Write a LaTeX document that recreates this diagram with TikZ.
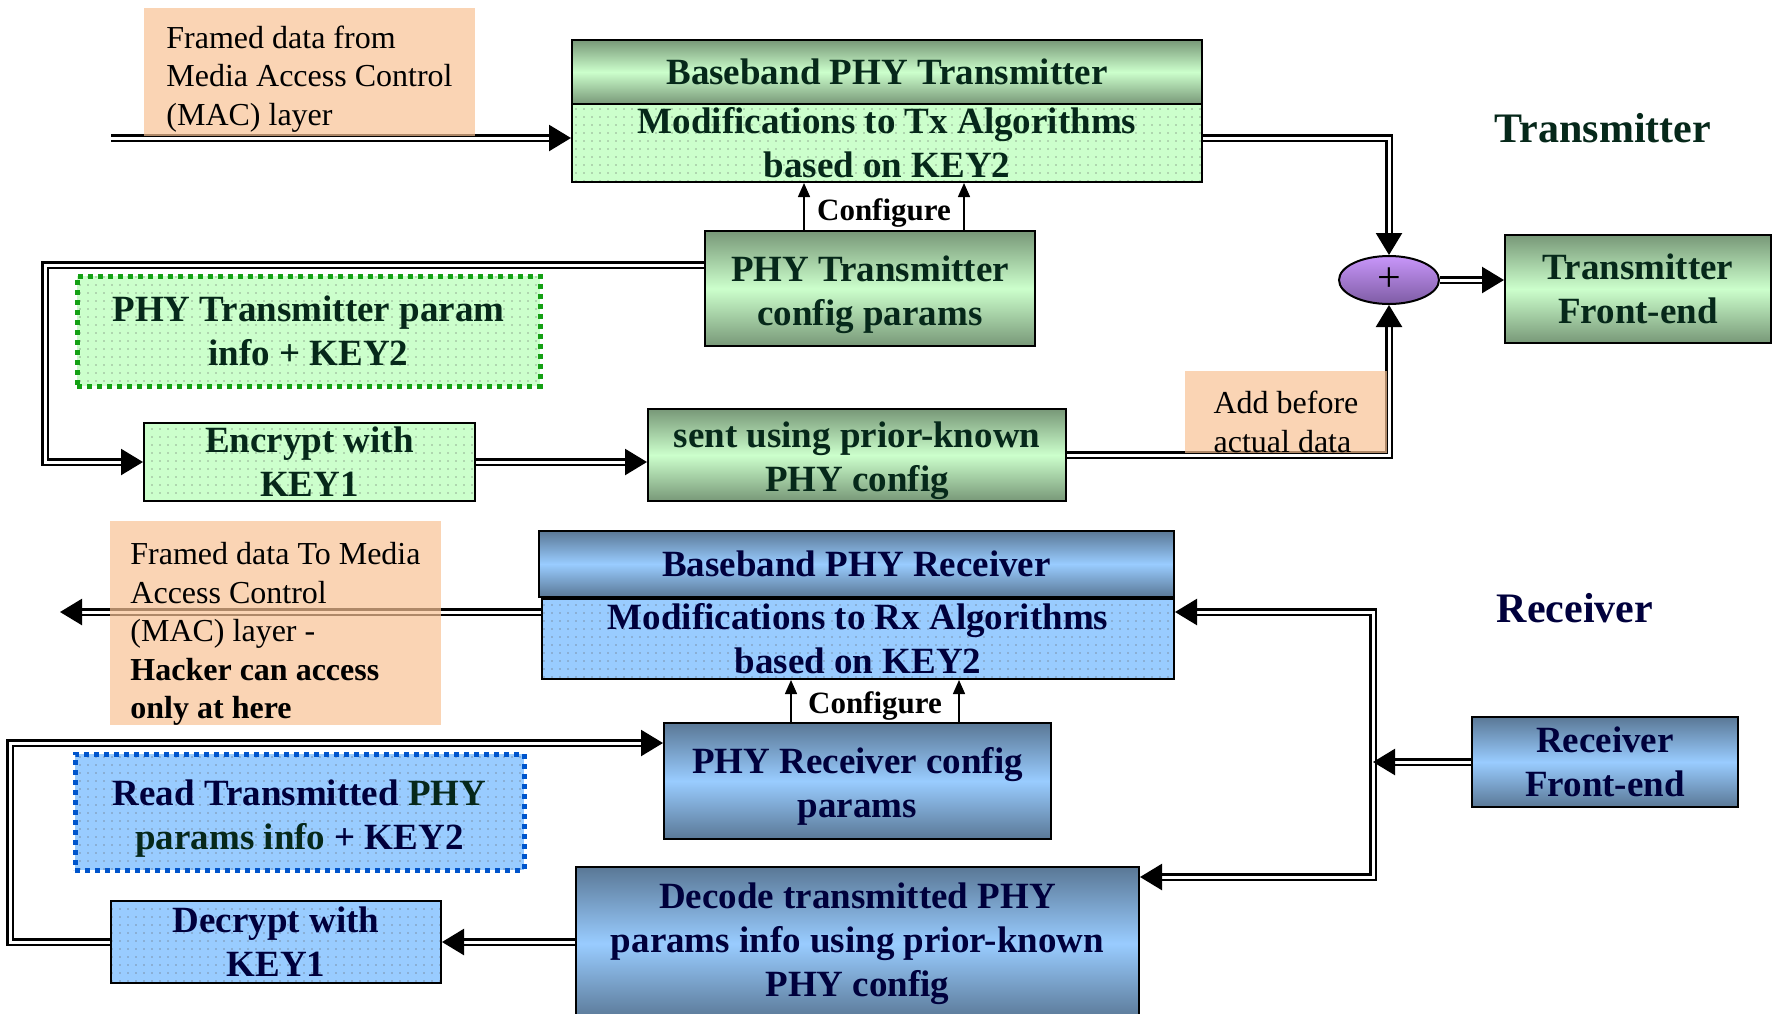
\documentclass[tikz,border=0pt]{standalone}
\usepackage{fontspec}
\setmainfont{Liberation Serif}
\usetikzlibrary{arrows.meta,shapes.geometric,patterns.meta,calc}
\definecolor{gdark}{HTML}{789878}
\definecolor{glight}{HTML}{CCFFCC}
\definecolor{gtext}{HTML}{06281A}
\definecolor{bdark}{HTML}{5A7896}
\definecolor{blight}{HTML}{99CCFF}
\definecolor{btext}{HTML}{00003C}
\definecolor{peach}{HTML}{F9C395}
\definecolor{gdot}{HTML}{14A014}
\definecolor{bdot}{HTML}{0055CC}
\definecolor{purp}{HTML}{C896FA}
\definecolor{purpdark}{HTML}{7E5CA4}
\newcommand\bxfont{\fontsize{37}{44}\selectfont\bfseries}
\newcommand\ntfont{\fontsize{32}{38.5}\selectfont}
\newcommand\cfgfont{\fontsize{31}{36}\selectfont\bfseries}
\newcommand\lblfont{\fontsize{42}{48}\selectfont\bfseries}
\newcommand\lift[1]{\rule{0pt}{#1pt}}
\begin{document}
\begin{tikzpicture}[x=1pt,y=-1pt,
  box/.style={draw=black, line width=2pt, inner sep=0pt, align=center, font=\bxfont},
  gshade/.style={box, top color=gdark, bottom color=gdark, middle color=glight, text=gtext},
  bshade/.style={box, top color=bdark, bottom color=bdark, middle color=blight, text=btext},
  gdots/.style={box, preaction={fill=glight}, pattern={Dots[distance=8pt,radius=0.9pt]}, pattern color=gdark!80, text=gtext},
  bdots/.style={box, preaction={fill=blight}, pattern={Dots[distance=8pt,radius=0.9pt]}, pattern color=bdark!80, text=btext},
  gborder/.style={draw=gdot, line width=5pt, dash pattern=on 5pt off 5pt},
  bborder/.style={draw=bdot, line width=5pt, dash pattern=on 5pt off 5pt},
  note/.style={fill=peach, fill opacity=0.7, text opacity=1, inner sep=0pt, align=left, font=\ntfont, text=black},
  cfgtext/.style={font=\cfgfont, inner sep=0pt, text=black},
  lbl/.style={font=\lblfont, inner sep=0pt},
  dbl/.style={draw=black, double=white, double distance=3pt, line width=2.4pt},
  dblarrow/.style={dbl, -{Triangle[length=22pt,width=26pt]}},
  dblboth/.style={dbl, {Triangle[length=22pt,width=26pt]}-{Triangle[length=22pt,width=26pt]}},
  cfgarrow/.style={draw=black, line width=1.5pt, -{Triangle[length=14pt,width=12pt]}}
]
\useasboundingbox (0,0) rectangle (1775,1013);
\fill[white] (0,0) rectangle (1775,1013);

% transmitter boxes
\node[gshade, minimum width=630pt, minimum height=64pt] (txhead) at (887,72) {Baseband PHY Transmitter};
\node[gdots, minimum width=630pt, minimum height=78pt] (txmod) at (887,143) {Modifications to Tx Algorithms\\based on KEY2};
\node[gshade, minimum width=330pt, minimum height=115pt] (txcfg) at (870,288.5) {\lift{38}PHY Transmitter\\config params};
\node[gdots, gborder, minimum width=463pt, minimum height=110pt] (txparam) at (308.5,331) {PHY Transmitter param\\info + KEY2};
\node[gdots, minimum width=331pt, minimum height=78pt] (encrypt) at (309.5,462) {Encrypt with\\KEY1};
\node[gshade, minimum width=418pt, minimum height=92pt] (sent) at (857,455) {\lift{37}sent using prior-known\\PHY config};
\node[ellipse, draw=black, line width=2pt, top color=purp, middle color=purp, bottom color=purpdark,
      minimum width=100pt, minimum height=48pt, inner sep=0pt, font=\fontsize{42}{44}\selectfont] (sum) at (1389,280) {+};
\node[gshade, minimum width=266pt, minimum height=108pt] (txfe) at (1638,289) {Transmitter\\Front-end};
\node[lbl, text=gtext] (txlabel) at (1603,128) {Transmitter};
\node[cfgtext] (cfgT) at (884,213) {Configure};

% receiver boxes
\node[bshade, minimum width=635pt, minimum height=66pt] (rxhead) at (856.5,564) {Baseband PHY Receiver};
\node[bdots, minimum width=632pt, minimum height=80pt] (rxmod) at (858,639) {Modifications to Rx Algorithms\\based on KEY2};
\node[bshade, minimum width=387pt, minimum height=116pt] (rxcfg) at (857.5,781) {\lift{36}PHY Receiver config\\params};
\node[bdots, bborder, minimum width=449pt, minimum height=116pt] (rxread) at (299.5,812)
  {\lift{38}Read Transmitted {\color{gtext}PHY}\\{\color{gtext}params info} + KEY2};
\node[bdots, minimum width=330pt, minimum height=82pt] (decrypt) at (276,942) {Decrypt with\\KEY1};
\node[bshade, minimum width=563pt, minimum height=153pt] (decode) at (857.5,943.5) {Decode transmitted PHY\\params info using prior-known\\PHY config};
\node[bshade, minimum width=266pt, minimum height=90pt] (rxfe) at (1605,762) {Receiver\\Front-end};
\node[lbl, text=btext] (rxlabel) at (1575,608) {Receiver};
\node[cfgtext] (cfgR) at (875,706) {Configure};

% transmitter connectors
\coordinate (inS) at (111,138);
\draw[dblarrow] (inS) -- (inS -| txmod.west);
\draw[dblarrow] (txmod.east |- inS) -| (sum.north);
\draw[dblarrow] (sum.east) -- (sum.east -| txfe.west);
\draw[dblarrow] (sent.east) -| (sum.south);
\coordinate (tl) at (45,265);
\draw[dblarrow] (txcfg.west |- tl) -- (tl) |- (encrypt.west);
\draw[dblarrow] (encrypt.east) -- (encrypt.east -| sent.west);
\coordinate (ca1) at ([xshift=-80pt]cfgT.center);
\coordinate (ca2) at ([xshift=80pt]cfgT.center);
\draw[cfgarrow] (ca1 |- txcfg.north) -- (ca1 |- txmod.south);
\draw[cfgarrow] (ca2 |- txcfg.north) -- (ca2 |- txmod.south);

% receiver connectors
\coordinate (out) at (60,612);
\draw[dblarrow] (rxmod.west |- out) -- (out);
\coordinate (jt) at (1373,612);
\coordinate (jb) at (1373,877);
\draw[dblboth] (jt -| rxmod.east) -- (jt) -- (jb) -- (jb -| decode.east);
\draw[dblarrow] (rxfe.west) -- (rxfe.west -| jt);
\draw[dblarrow] (decode.west |- decrypt.east) -- (decrypt.east);
\coordinate (lb) at (10,743);
\draw[dblarrow] (decrypt.west) -| (lb) -- (lb -| rxcfg.west);
\coordinate (cr1) at ([xshift=-84pt]cfgR.center);
\coordinate (cr2) at ([xshift=84pt]cfgR.center);
\draw[cfgarrow] (cr1 |- rxcfg.north) -- (cr1 |- rxmod.south);
\draw[cfgarrow] (cr2 |- rxcfg.north) -- (cr2 |- rxmod.south);

% notes (drawn over the lines, as in the reference)
\node[note, minimum width=331pt, minimum height=128pt] (topnote) at (309.5,72)
  {\lift{36}Framed data from\\Media Access Control\\(MAC) layer};
\node[note, minimum width=202pt, minimum height=82pt] (addnote) at (1286,412)
  {\lift{42}Add before\\actual data};
\node[note, minimum width=331pt, minimum height=198pt] (botnote) at (275.5,623)
  {\lift{44}Framed data To Media\\Access Control\\(MAC) layer -\\\textbf{Hacker can access}\\\textbf{only at here}};
\end{tikzpicture}
\end{document}
